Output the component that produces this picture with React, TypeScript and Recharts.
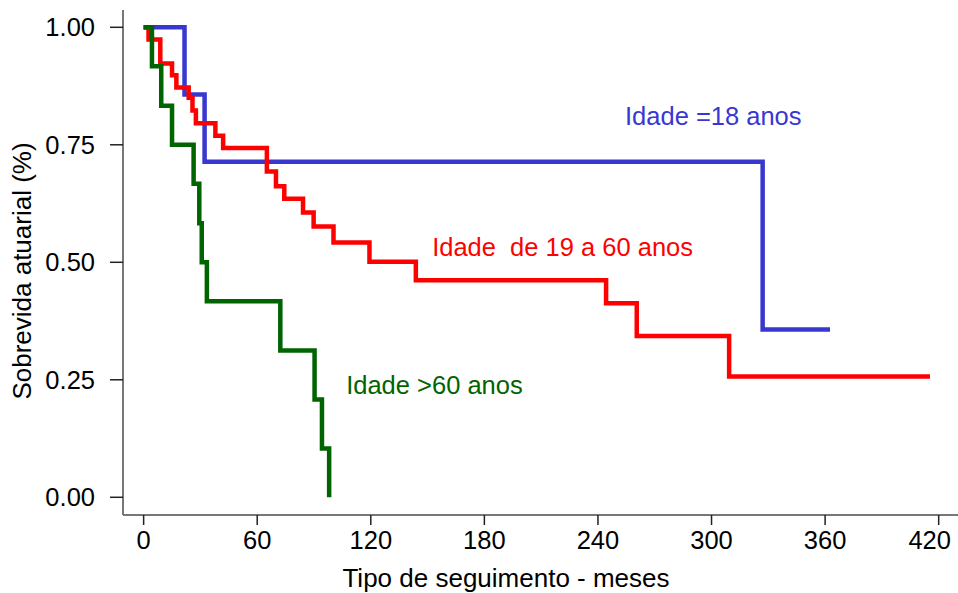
import { LineChart, Line, XAxis, YAxis, ReferenceDot } from 'recharts'

// Kaplan-Meier style survival by age group (months, survival fraction)
const ageUpTo18 = [
  { t: 0, s: 1 },
  { t: 21.6, s: 0.857 },
  { t: 32.2, s: 0.714 },
  { t: 327, s: 0.357 },
  { t: 362.6, s: 0.357 },
]

const age19to60 = [
  { t: 0, s: 1 },
  { t: 2.6, s: 0.974 },
  { t: 8.8, s: 0.923 },
  { t: 15.0, s: 0.898 },
  { t: 17.3, s: 0.872 },
  { t: 23.8, s: 0.85 },
  { t: 25.8, s: 0.823 },
  { t: 27.6, s: 0.796 },
  { t: 37.9, s: 0.769 },
  { t: 42.0, s: 0.743 },
  { t: 65.1, s: 0.693 },
  { t: 69.9, s: 0.662 },
  { t: 74.3, s: 0.635 },
  { t: 84.2, s: 0.606 },
  { t: 89.8, s: 0.576 },
  { t: 100.3, s: 0.542 },
  { t: 119.3, s: 0.501 },
  { t: 143.8, s: 0.462 },
  { t: 244.3, s: 0.413 },
  { t: 260.5, s: 0.343 },
  { t: 309.3, s: 0.257 },
  { t: 415.4, s: 0.257 },
]

const ageOver60 = [
  { t: 0, s: 1 },
  { t: 4.4, s: 0.917 },
  { t: 9.3, s: 0.833 },
  { t: 15.0, s: 0.75 },
  { t: 26.4, s: 0.667 },
  { t: 29.4, s: 0.583 },
  { t: 30.7, s: 0.5 },
  { t: 33.4, s: 0.417 },
  { t: 72.2, s: 0.3125 },
  { t: 90.3, s: 0.208 },
  { t: 94.2, s: 0.104 },
  { t: 98.0, s: 0 },
]

const xTicks = [0, 60, 120, 180, 240, 300, 360, 420]
const yTicks = [0, 0.25, 0.5, 0.75, 1]

const seriesLabels = [
  { text: 'Idade =18 anos', t: 254.3, s: 0.811, color: '#3838d0' },
  { text: 'Idade  de 19 a 60 anos', t: 152.4, s: 0.533, color: '#ff0000' },
  { text: 'Idade >60 anos', t: 107, s: 0.239, color: '#006400' },
]

const FONT = 'Liberation Sans, Arial, sans-serif'
const FS = 25.5

// keeps the last tick label inside the picture, as the original does
function XTick({ x, y, payload }: any) {
  const shift = payload.value === 420 ? -9 : 0
  return (
    <text x={x + shift} y={y} dy="0.71em" textAnchor="middle" fontSize={FS} fontFamily={FONT} fill="#000">
      {payload.value}
    </text>
  )
}

export default function App() {
  return (
    <div style={{ position: 'absolute', left: 0, top: 0, background: '#fff' }}>
      <LineChart width={958} height={593} margin={{ top: 10, right: 0, bottom: 0, left: 0 }}>
        <XAxis
          type="number"
          dataKey="t"
          domain={[-10.9, 430.2]}
          allowDataOverflow
          ticks={xTicks}
          height={78}
          tickSize={10}
          tickMargin={6}
          axisLine={{ stroke: '#777', strokeWidth: 2 }}
          tickLine={{ stroke: '#222', strokeWidth: 1.5 }}
          tick={<XTick />}
          label={() => (
            <text x={506} y={587} textAnchor="middle" fontSize={26} fontFamily={FONT} fill="#000">
              Tipo de seguimento - meses
            </text>
          )}
        />
        <YAxis
          type="number"
          domain={[-0.0377, 1.0368]}
          allowDataOverflow
          ticks={yTicks}
          width={123}
          tickSize={13}
          tickMargin={15}
          tickFormatter={(v: number) => v.toFixed(2)}
          axisLine={{ stroke: '#777', strokeWidth: 2 }}
          tickLine={{ stroke: '#222', strokeWidth: 1.5 }}
          tick={{ fill: '#000', fontSize: FS, fontFamily: FONT }}
          label={() => (
            <text
              x={31}
              y={271}
              transform="rotate(-90 31 271)"
              textAnchor="middle"
              fontSize={26}
              fontFamily={FONT}
              fill="#000"
            >
              Sobrevida atuarial (%)
            </text>
          )}
        />
        <Line data={ageUpTo18} dataKey="s" type="stepAfter" stroke="#3838d0" strokeWidth={4.5} dot={false} isAnimationActive={false} />
        <Line data={age19to60} dataKey="s" type="stepAfter" stroke="#ff0000" strokeWidth={4.5} dot={false} isAnimationActive={false} />
        <Line data={ageOver60} dataKey="s" type="stepAfter" stroke="#006400" strokeWidth={4.5} dot={false} isAnimationActive={false} />
        {seriesLabels.map(l => (
          <ReferenceDot
            key={l.text}
            x={l.t}
            y={l.s}
            r={0}
            ifOverflow="visible"
            shape={(p: any) => (
              <text
                x={p.cx}
                y={p.cy}
                dominantBaseline="central"
                fontSize={FS}
                fontFamily={FONT}
                fill={l.color}
                style={{ whiteSpace: 'pre' }}
              >
                {l.text}
              </text>
            )}
          />
        ))}
      </LineChart>
    </div>
  )
}
